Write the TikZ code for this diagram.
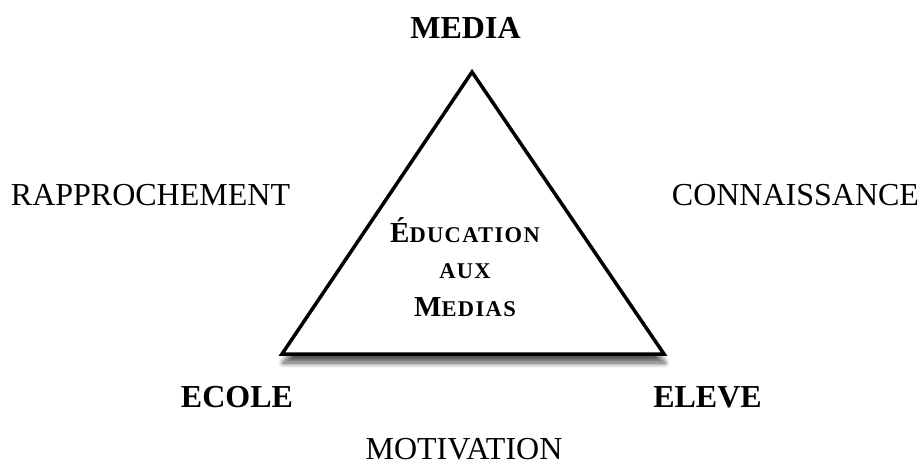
\documentclass[tikz,border=0pt]{standalone}
\usepackage{fontspec}
\setmainfont{Liberation Serif}
\newfontfamily\spacedbf[LetterSpace=6,BoldFont={Liberation Serif Bold}]{Liberation Serif}
\usepackage{tikz}
\usetikzlibrary{calc,shadows,shadows.blur}

\newcommand{\capbig}[1]{{\fontsize{29}{30}\selectfont #1}}
\newcommand{\capsmall}[1]{{\fontsize{22.5}{24}\selectfont #1}}

\begin{document}
\begin{tikzpicture}[x=1pt, y=-1pt,
  lbl/.style={inner sep=0pt, anchor=base, font=\fontsize{32}{38}\selectfont},
  corner/.style={lbl, font=\fontsize{32}{38}\selectfont\bfseries},
  inner/.style={inner sep=0pt, anchor=base, font=\spacedbf\bfseries}]
  \useasboundingbox (0,0) rectangle (920,463);
  % the three corners
  \coordinate (t) at (472,72);
  \coordinate (l) at (282,354);
  \coordinate (r) at (664,354);
  \draw[line width=3.5pt, fill=white, line join=miter,
        blur shadow={shadow xshift=1pt, shadow yshift=-9pt, shadow blur steps=12, shadow blur radius=5pt, shadow opacity=65}]
    (t) -- (r) -- (l) -- cycle;
  % corners
  \node[corner] (m) at (465.5,38) {MEDIA};
  \node[corner] (e) at (237,407) {ECOLE};
  \node[corner] (v) at (707.5,407) {ELEVE};
  % sides
  \node[lbl] (ra) at (150.5,205) {RAPPROCHEMENT};
  \node[lbl] (co) at (795.5,205) {CONNAISSANCE};
  \node[lbl] (mo) at (464,459) {MOTIVATION};
  % middle
  \node[inner] (e1) at (465,242) {\capbig{É}\capsmall{DUCATION}};
  \node[inner] (e2) at (465,278) {\capsmall{AUX}};
  \node[inner] (e3) at (465,316) {\capbig{M}\capsmall{EDIAS}};
\end{tikzpicture}
\end{document}
